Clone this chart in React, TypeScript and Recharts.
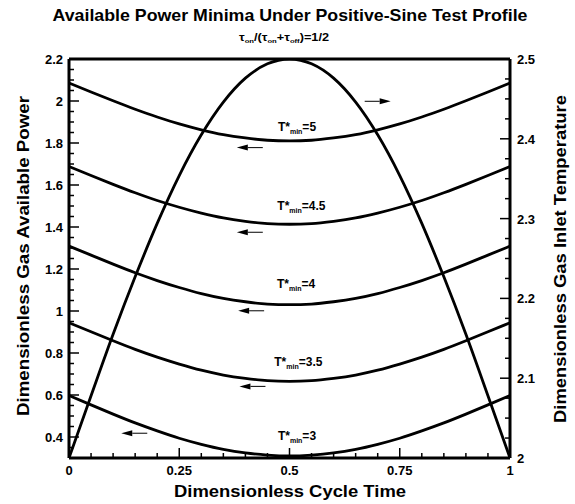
import { LineChart, Line, XAxis, YAxis, ReferenceLine, ReferenceDot } from "recharts";

// dimensionless cycle time
const cycleTime = [0, 0.05, 0.1, 0.15, 0.2, 0.25, 0.3, 0.35, 0.4, 0.45, 0.5, 0.55, 0.6, 0.65, 0.7, 0.75, 0.8, 0.85, 0.9, 0.95, 1];

// inlet temperature (right axis)
const inletTemp = [2.0, 2.078, 2.155, 2.227, 2.294, 2.354, 2.405, 2.446, 2.476, 2.494, 2.5, 2.494, 2.476, 2.446, 2.405, 2.354, 2.294, 2.227, 2.155, 2.078, 2.0];

// available power minima (left axis), one per T*min
const power5 = [2.086, 2.043, 2.001, 1.961, 1.924, 1.891, 1.863, 1.84, 1.824, 1.813, 1.81, 1.813, 1.824, 1.84, 1.863, 1.891, 1.924, 1.961, 2.001, 2.043, 2.086];
const power45 = [1.688, 1.645, 1.603, 1.563, 1.526, 1.494, 1.466, 1.443, 1.427, 1.416, 1.413, 1.416, 1.427, 1.443, 1.466, 1.494, 1.526, 1.563, 1.603, 1.645, 1.688];
const power4 = [1.309, 1.266, 1.223, 1.182, 1.145, 1.112, 1.083, 1.06, 1.044, 1.033, 1.03, 1.033, 1.044, 1.06, 1.083, 1.112, 1.145, 1.182, 1.223, 1.266, 1.309];
const power35 = [0.944, 0.901, 0.858, 0.817, 0.78, 0.747, 0.718, 0.695, 0.679, 0.668, 0.665, 0.668, 0.679, 0.695, 0.718, 0.747, 0.78, 0.817, 0.858, 0.901, 0.944];
const power3 = [0.598, 0.553, 0.509, 0.467, 0.429, 0.394, 0.365, 0.341, 0.324, 0.314, 0.31, 0.314, 0.324, 0.341, 0.365, 0.394, 0.429, 0.467, 0.509, 0.553, 0.598];

const curveLabels = ["5", "4.5", "4", "3.5", "3"];
const labelX = [0.517, 0.527, 0.515, 0.52, 0.517];
const labelY = [1.878, 1.499, 1.129, 0.759, 0.404];
const arrowX = [0.41, 0.41, 0.413, 0.416, 0.148];
const arrowY = [1.778, 1.375, 1.001, 0.641, 0.418];

const xMajor = [0, 0.25, 0.5, 0.75, 1];
const leftMajor = [0.4, 0.6, 0.8, 1, 1.2, 1.4, 1.6, 1.8, 2, 2.2];
const rightMajor = [2, 2.1, 2.2, 2.3, 2.4, 2.5];

const r3 = (v: number) => Math.round(v * 1000) / 1000;
const xTicks = Array.from({ length: 21 }, (_, i) => r3(i * 0.05));
const leftTicks = Array.from({ length: 38 }, (_, i) => r3(0.35 + i * 0.05));
const rightTicks = Array.from({ length: 21 }, (_, i) => r3(2 + i * 0.025));

const data = cycleTime.map((t, i) => ({
  t,
  temp: inletTemp[i],
  p5: power5[i],
  p45: power45[i],
  p4: power4[i],
  p35: power35[i],
  p3: power3[i],
}));

const font = "'Liberation Sans', Arial, sans-serif";
const isMajor = (v: number, list: number[]) => list.some((m) => Math.abs(m - v) < 1e-6);

const XTick = ({ x, y, payload }: any) => {
  const major = isMajor(payload.value, xMajor);
  return (
    <g>
      <line x1={x} x2={x} y1={y} y2={y - (major ? 10 : 5)} stroke="#000" strokeWidth={1.5} />
      {major && (
        <text x={x} y={y + 17} textAnchor="middle" fontFamily={font} fontWeight="bold" fontSize={13} fill="#000">
          {payload.value}
        </text>
      )}
    </g>
  );
};

const LeftTick = ({ x, y, payload }: any) => {
  const major = isMajor(payload.value, leftMajor);
  return (
    <g>
      <line x1={x} x2={x + (major ? 10 : 5)} y1={y} y2={y} stroke="#000" strokeWidth={1.5} />
      {major && (
        <text x={x - 6} y={y + 5} textAnchor="end" fontFamily={font} fontWeight="bold" fontSize={13} fill="#000">
          {payload.value}
        </text>
      )}
    </g>
  );
};

const RightTick = ({ x, y, payload }: any) => {
  const major = isMajor(payload.value, rightMajor);
  return (
    <g>
      <line x1={x} x2={x - (major ? 10 : 5)} y1={y} y2={y} stroke="#000" strokeWidth={1.5} />
      {major && (
        <text x={x + 7} y={y + 5} textAnchor="start" fontFamily={font} fontWeight="bold" fontSize={13} fill="#000">
          {payload.value}
        </text>
      )}
    </g>
  );
};

const arrow = (dir: number) => ({ cx, cy }: any) => {
  const tip = cx + dir * 13;
  const back = tip - dir * 11;
  return (
    <g>
      <line x1={cx - dir * 13} x2={back} y1={cy} y2={cy} stroke="#000" strokeWidth={1} />
      <polygon points={`${tip},${cy} ${back},${cy - 3} ${back},${cy + 3}`} fill="#000" />
    </g>
  );
};

const tLabel = (val: string) => ({ cx, cy }: any) => (
  <text x={cx} y={cy + 4} textAnchor="middle" fontFamily={font} fontWeight="bold" fontSize={12} fill="#000">
    T*
    <tspan fontSize={7} dy={3} fill="#000">min</tspan>
    <tspan dy={-3} fill="#000">={val}</tspan>
  </text>
);

const series = ["p5", "p45", "p4", "p35", "p3"];

export default function App() {
  return (
    <div style={{ position: "absolute", left: 0, top: 0, width: 575, height: 504, background: "#fff" }}>
      <LineChart width={575} height={504} data={data} margin={{ top: 59, right: 25, left: 29, bottom: 16 }}>
        <XAxis
          dataKey="t"
          type="number"
          domain={[0, 1]}
          ticks={xTicks}
          interval={0}
          tick={<XTick />}
          tickLine={false}
          tickSize={0}
          tickMargin={0}
          height={30}
          axisLine={{ stroke: "#000", strokeWidth: 3 }}
        />
        <YAxis
          yAxisId="left"
          type="number"
          domain={[0.3, 2.2]}
          allowDataOverflow
          ticks={leftTicks}
          interval={0}
          tick={<LeftTick />}
          tickLine={false}
          tickSize={0}
          tickMargin={0}
          width={40}
          axisLine={{ stroke: "#000", strokeWidth: 3 }}
        />
        <YAxis
          yAxisId="right"
          orientation="right"
          type="number"
          domain={[2, 2.5]}
          allowDataOverflow
          ticks={rightTicks}
          interval={0}
          tick={<RightTick />}
          tickLine={false}
          tickSize={0}
          tickMargin={0}
          width={40}
          axisLine={{ stroke: "#000", strokeWidth: 3 }}
        />
        <ReferenceLine yAxisId="left" y={2.2} stroke="#000" strokeWidth={3} />
        {series.map((k) => (
          <Line key={k} yAxisId="left" dataKey={k} type="monotone" stroke="#000" strokeWidth={2.8} dot={false} isAnimationActive={false} />
        ))}
        <Line yAxisId="right" dataKey="temp" type="monotone" stroke="#000" strokeWidth={2.8} dot={false} isAnimationActive={false} />
        {curveLabels.map((c, i) => (
          <ReferenceDot key={"l" + c} yAxisId="left" x={labelX[i]} y={labelY[i]} shape={tLabel(c)} />
        ))}
        {curveLabels.map((c, i) => (
          <ReferenceDot key={"a" + c} yAxisId="left" x={arrowX[i]} y={arrowY[i]} shape={arrow(-1)} />
        ))}
        <ReferenceDot yAxisId="right" x={0.7} y={2.447} shape={arrow(1)} />
      </LineChart>
      <svg width={575} height={504} style={{ position: "absolute", left: 0, top: 0, pointerEvents: "none" }}>
        <text x={290} y={21} textAnchor="middle" textLength={475} lengthAdjust="spacingAndGlyphs" fontFamily={font} fontWeight="bold" fontSize={17} fill="#000">
          Available Power Minima Under Positive-Sine Test Profile
        </text>
        <text x={284} y={41} textAnchor="middle" textLength={90} lengthAdjust="spacingAndGlyphs" fontFamily={font} fontWeight="bold" fontSize={10} fill="#000">
          τ<tspan fontSize={6} dy={2}>on</tspan>
          <tspan dy={-2}>/(τ</tspan>
          <tspan fontSize={6} dy={2}>on</tspan>
          <tspan dy={-2}>+τ</tspan>
          <tspan fontSize={6} dy={2}>off</tspan>
          <tspan dy={-2}>)=1/2</tspan>
        </text>
        <text x={290} y={497} textAnchor="middle" textLength={232} lengthAdjust="spacingAndGlyphs" fontFamily={font} fontWeight="bold" fontSize={17} fill="#000">
          Dimensionless Cycle Time
        </text>
        <text transform="translate(29,256) rotate(-90)" textAnchor="middle" textLength={320} lengthAdjust="spacingAndGlyphs" fontFamily={font} fontWeight="bold" fontSize={17} fill="#000">
          Dimensionless Gas Available Power
        </text>
        <text transform="translate(566,259) rotate(-90)" textAnchor="middle" textLength={328} lengthAdjust="spacingAndGlyphs" fontFamily={font} fontWeight="bold" fontSize={17} fill="#000">
          Dimensionless Gas Inlet Temperature
        </text>
      </svg>
    </div>
  );
}
